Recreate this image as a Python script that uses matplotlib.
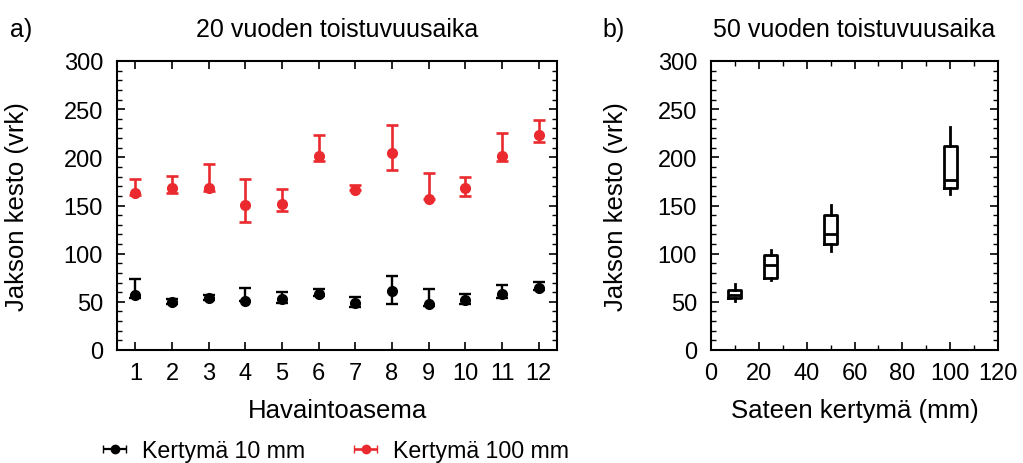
import numpy as np
import matplotlib
matplotlib.use("Agg")
import matplotlib.pyplot as plt
from matplotlib.ticker import MultipleLocator

plt.rcParams['font.family'] = ['Liberation Sans', 'DejaVu Sans']

# a) station data
stations = np.arange(1, 13)
red_mid = [163, 168, 168, 151, 152, 201, 166, 204, 157, 168, 201, 223]
red_hi = [177, 181, 193, 178, 167, 223, 171, 234, 184, 180, 225, 239]
red_lo = [161, 163, 165, 133, 144, 196, 166, 187, 157, 160, 196, 216]
blk_mid = [57, 50, 54, 51, 53, 58, 49, 61, 48, 52, 58, 64]
blk_hi = [74, 53, 57, 64, 60, 63, 55, 77, 63, 58, 67, 71]
blk_lo = [54, 48, 52, 51, 49, 56, 45, 48, 46, 48, 54, 62]

# b) box stats
accum = [10, 25, 50, 100]
wlo = [51, 73, 103, 162]
q1 = [54, 75, 110, 168]
med = [57, 88, 120, 176]
q3 = [62, 99, 140, 212]
whi = [68, 104, 151, 231]

red = '#ea2a2e'
fs_tick = 17
fs_lab = 18.5
fs_title = 18
fs_leg = 16.7

fig = plt.figure(figsize=(10.23, 4.64), dpi=100)
ax1 = fig.add_axes([117/1023, 113/464, 440/1023, 289/464])
ax2 = fig.add_axes([711/1023, 113/464, 287/1023, 289/464])

def errs(mid, lo, hi):
    mid = np.array(mid)
    return [mid - np.array(lo), np.array(hi) - mid]

ax1.errorbar(stations, blk_mid, yerr=errs(blk_mid, blk_lo, blk_hi), fmt='o',
             color='black', ms=7, elinewidth=1.7, capsize=4.4, capthick=1.7)
ax1.errorbar(stations, red_mid, yerr=errs(red_mid, red_lo, red_hi), fmt='o',
             color=red, ms=7, elinewidth=1.9, capsize=4.4, capthick=1.9)
# legend handles with horizontal bars
h1 = ax1.errorbar([np.nan], [np.nan], xerr=[1], fmt='o', color='black', ms=6,
                  elinewidth=1.6, capsize=3, label='Kertymä 10 mm')
h2 = ax1.errorbar([np.nan], [np.nan], xerr=[1], fmt='o', color=red, ms=6,
                  elinewidth=1.9, capsize=3, label='Kertymä 100 mm')
fig.legend(handles=[h1, h2], loc='center left', bbox_to_anchor=(101/1023, 1 - 452/464),
           ncol=2, frameon=False, fontsize=fs_leg, handlelength=1.17, borderpad=0,
           borderaxespad=0, handletextpad=0.58, columnspacing=2.05)

ax1.set_xlim(0.5, 12.5)
ax1.set_ylim(0, 300)
ax1.set_xticks(stations)
ax1.yaxis.set_major_locator(MultipleLocator(50))
ax1.yaxis.set_minor_locator(MultipleLocator(10))
ax1.set_xlabel('Havaintoasema', fontsize=fs_lab, labelpad=10)
ax1.set_ylabel('Jakson kesto (vrk)', fontsize=fs_lab)
ax1.yaxis.set_label_coords(-0.2, 0.5)
ax1.set_title('20 vuoden toistuvuusaika', fontsize=fs_title, pad=18)

stats = []
for i in range(len(accum)):
    stats.append(dict(whislo=wlo[i], q1=q1[i], med=med[i], q3=q3[i], whishi=whi[i], fliers=[]))
ax2.bxp(stats, positions=accum, widths=5.5, showcaps=False, manage_ticks=False,
        boxprops=dict(lw=2, color='black'), medianprops=dict(lw=2, color='black'),
        whiskerprops=dict(lw=2, color='black'))
ax2.set_xlim(0, 120)
ax2.set_ylim(0, 300)
ax2.xaxis.set_major_locator(MultipleLocator(20))
ax2.xaxis.set_minor_locator(MultipleLocator(10))
ax2.yaxis.set_major_locator(MultipleLocator(50))
ax2.yaxis.set_minor_locator(MultipleLocator(10))
ax2.set_xlabel('Sateen kertymä (mm)', fontsize=fs_lab, labelpad=10)
ax2.set_ylabel('Jakson kesto (vrk)', fontsize=fs_lab)
ax2.yaxis.set_label_coords(-0.29, 0.5)
ax2.set_title('50 vuoden toistuvuusaika', fontsize=fs_title, pad=18)

for ax in (ax1, ax2):
    ax.tick_params(which='both', direction='in', top=True, right=True, labelsize=fs_tick)
    ax.tick_params(axis='y', pad=10)
    ax.tick_params(axis='x', pad=9)
    ax.tick_params(which='major', length=6, width=1.2)
    ax.tick_params(which='minor', length=3.5, width=1)
    for s in ax.spines.values():
        s.set_linewidth(1.5)

fig.text(10/1023, 1 - 30/464, 'a)', fontsize=fs_title, va='center')
fig.text(602/1023, 1 - 30/464, 'b)', fontsize=fs_title, va='center')

fig.savefig('out.png', dpi=100)
